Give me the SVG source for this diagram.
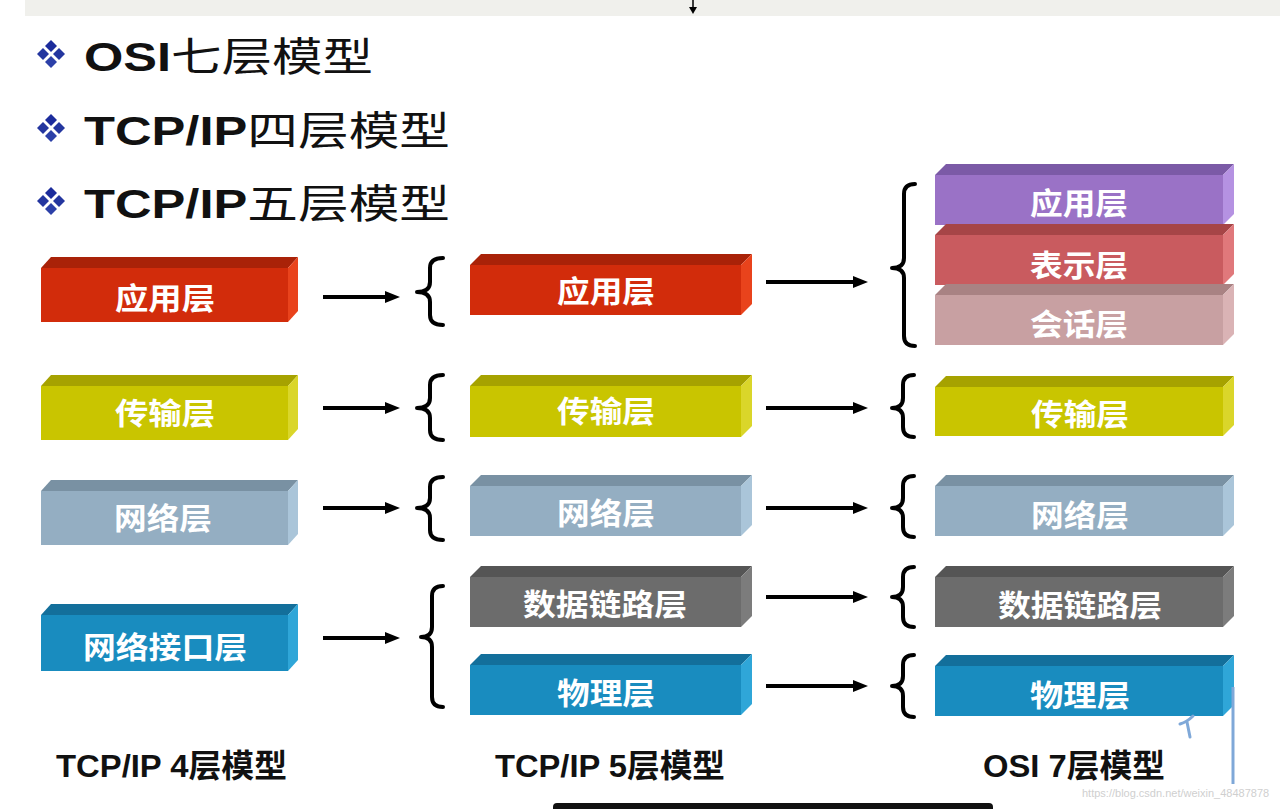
<svg xmlns="http://www.w3.org/2000/svg" width="1280" height="809" viewBox="0 0 1280 809">
<defs>
<style>
.lbl{font-family:"Liberation Sans","Noto Sans CJK SC",sans-serif;font-weight:bold;font-size:30px;fill:#ffffff;text-anchor:middle}
.ttl{font-family:"Liberation Sans","Noto Sans CJK SC",sans-serif;font-size:40px;fill:#111}
.ttl .lat{font-weight:bold}
.ttl .cjk{font-weight:normal}
.cap{font-family:"Liberation Sans","Noto Sans CJK SC",sans-serif;font-weight:bold;font-size:32px;fill:#111}
.arr{stroke:#000;stroke-width:4;fill:none}
.brace{stroke:#000;stroke-width:4;fill:none;stroke-linecap:round;stroke-linejoin:round}
.red .f{fill:#d22c0b}.red .t{fill:#a92208}.red .s{fill:#e9431c}
.yel .f{fill:#c9c500}.yel .t{fill:#a6a200}.yel .s{fill:#dad62a}
.gbl .f{fill:#94aec2}.gbl .t{fill:#7991a3}.gbl .s{fill:#aac5d9}
.blu .f{fill:#198cbf}.blu .t{fill:#136f9b}.blu .s{fill:#2fa6d8}
.gry .f{fill:#6c6c6c}.gry .t{fill:#555555}.gry .s{fill:#7c7c7c}
.pur .f{fill:#9a72c6}.pur .t{fill:#7b5aa6}.pur .s{fill:#b592e2}
.rse .f{fill:#c95b5f}.rse .t{fill:#a64547}.rse .s{fill:#e0787b}
.pnk .f{fill:#c8a0a2}.pnk .t{fill:#a98283}.pnk .s{fill:#dab3b5}
</style>
<marker id="ah" markerUnits="userSpaceOnUse" markerWidth="16" markerHeight="12" refX="1" refY="6" orient="auto">
<path d="M0,0 L15,6 L0,12 z" fill="#000"/>
</marker>
<marker id="ahs" markerUnits="userSpaceOnUse" markerWidth="8" markerHeight="8" refX="1" refY="4" orient="auto">
<path d="M0,0 L7,4 L0,8 z" fill="#000"/>
</marker>
<g id="bul">
<polygon points="0,-14 6,-8 0,-2 -6,-8" fill="#1c2c9c"/>
<polygon points="-8,-6 -2,0 -8,6 -14,0" fill="#24369f"/>
<polygon points="8,-6 14,0 8,6 2,0" fill="#24369f"/>
<polygon points="0,2 6,8 0,14 -6,8" fill="#2c40a8"/>
</g>
</defs>
<rect width="1280" height="809" fill="#ffffff"/>
<rect x="25" y="0" width="1255" height="16" fill="#f0f0ec"/>
<line x1="693" y1="0" x2="693" y2="8" stroke="#000" stroke-width="1.5" marker-end="url(#ahs)"/>

<g id="titles">
<use href="#bul" x="51" y="54"/>
<text class="ttl" x="84" y="71" textLength="289" lengthAdjust="spacingAndGlyphs"><tspan class="lat">OSI</tspan><tspan class="cjk">七层模型</tspan></text>
<use href="#bul" x="51" y="128"/>
<text class="ttl" x="84" y="145" textLength="366" lengthAdjust="spacingAndGlyphs"><tspan class="lat">TCP/IP</tspan><tspan class="cjk">四层模型</tspan></text>
<use href="#bul" x="51" y="201"/>
<text class="ttl" x="84" y="218" textLength="366" lengthAdjust="spacingAndGlyphs"><tspan class="lat">TCP/IP</tspan><tspan class="cjk">五层模型</tspan></text>
</g>

<g id="n4-app" class="red">
<rect class="f" x="41" y="268" width="247" height="54"/>
<polygon class="t" points="41,268 51,257 298,257 288,268"/>
<polygon class="s" points="288,268 298,257 298,311 288,322"/>
<text class="lbl" x="165" y="309" textLength="100" lengthAdjust="spacingAndGlyphs">应用层</text>
</g>
<g id="n4-trans" class="yel">
<rect class="f" x="41" y="386" width="247" height="54"/>
<polygon class="t" points="41,386 51,375 298,375 288,386"/>
<polygon class="s" points="288,386 298,375 298,429 288,440"/>
<text class="lbl" x="165" y="424" textLength="100" lengthAdjust="spacingAndGlyphs">传输层</text>
</g>
<g id="n4-net" class="gbl">
<rect class="f" x="41" y="491" width="247" height="54"/>
<polygon class="t" points="41,491 51,480 298,480 288,491"/>
<polygon class="s" points="288,491 298,480 298,534 288,545"/>
<text class="lbl" x="163" y="529" textLength="98" lengthAdjust="spacingAndGlyphs">网络层</text>
</g>
<g id="n4-if" class="blu">
<rect class="f" x="41" y="615" width="247" height="56"/>
<polygon class="t" points="41,615 51,604 298,604 288,615"/>
<polygon class="s" points="288,615 298,604 298,660 288,671"/>
<text class="lbl" x="165" y="658" textLength="164" lengthAdjust="spacingAndGlyphs">网络接口层</text>
</g>

<g id="n5-app" class="red">
<rect class="f" x="470" y="265" width="271" height="50"/>
<polygon class="t" points="470,265 481,254 752,254 741,265"/>
<polygon class="s" points="741,265 752,254 752,304 741,315"/>
<text class="lbl" x="606" y="302" textLength="98" lengthAdjust="spacingAndGlyphs">应用层</text>
</g>
<g id="n5-trans" class="yel">
<rect class="f" x="470" y="386" width="271" height="51"/>
<polygon class="t" points="470,386 481,375 752,375 741,386"/>
<polygon class="s" points="741,386 752,375 752,426 741,437"/>
<text class="lbl" x="606" y="422" textLength="98" lengthAdjust="spacingAndGlyphs">传输层</text>
</g>
<g id="n5-net" class="gbl">
<rect class="f" x="470" y="486" width="271" height="50"/>
<polygon class="t" points="470,486 481,475 752,475 741,486"/>
<polygon class="s" points="741,486 752,475 752,525 741,536"/>
<text class="lbl" x="606" y="524" textLength="98" lengthAdjust="spacingAndGlyphs">网络层</text>
</g>
<g id="n5-link" class="gry">
<rect class="f" x="470" y="577" width="271" height="50"/>
<polygon class="t" points="470,577 481,566 752,566 741,577"/>
<polygon class="s" points="741,577 752,566 752,616 741,627"/>
<text class="lbl" x="605" y="615" textLength="164" lengthAdjust="spacingAndGlyphs">数据链路层</text>
</g>
<g id="n5-phy" class="blu">
<rect class="f" x="470" y="665" width="271" height="50"/>
<polygon class="t" points="470,665 481,654 752,654 741,665"/>
<polygon class="s" points="741,665 752,654 752,704 741,715"/>
<text class="lbl" x="606" y="704" textLength="98" lengthAdjust="spacingAndGlyphs">物理层</text>
</g>

<g id="n7-app" class="pur">
<rect class="f" x="935" y="175" width="288" height="50"/>
<polygon class="t" points="935,175 946,164 1234,164 1223,175"/>
<polygon class="s" points="1223,175 1234,164 1234,214 1223,225"/>
<text class="lbl" x="1079" y="214" textLength="98" lengthAdjust="spacingAndGlyphs">应用层</text>
</g>
<g id="n7-pres" class="rse">
<rect class="f" x="935" y="235" width="288" height="50"/>
<polygon class="t" points="935,235 946,224 1234,224 1223,235"/>
<polygon class="s" points="1223,235 1234,224 1234,274 1223,285"/>
<text class="lbl" x="1079" y="276" textLength="98" lengthAdjust="spacingAndGlyphs">表示层</text>
</g>
<g id="n7-sess" class="pnk">
<rect class="f" x="935" y="295" width="288" height="50"/>
<polygon class="t" points="935,295 946,284 1234,284 1223,295"/>
<polygon class="s" points="1223,295 1234,284 1234,334 1223,345"/>
<text class="lbl" x="1079" y="335" textLength="98" lengthAdjust="spacingAndGlyphs">会话层</text>
</g>
<g id="n7-trans" class="yel">
<rect class="f" x="935" y="387" width="288" height="49"/>
<polygon class="t" points="935,387 946,376 1234,376 1223,387"/>
<polygon class="s" points="1223,387 1234,376 1234,425 1223,436"/>
<text class="lbl" x="1080" y="425" textLength="98" lengthAdjust="spacingAndGlyphs">传输层</text>
</g>
<g id="n7-net" class="gbl">
<rect class="f" x="935" y="486" width="288" height="50"/>
<polygon class="t" points="935,486 946,475 1234,475 1223,486"/>
<polygon class="s" points="1223,486 1234,475 1234,525 1223,536"/>
<text class="lbl" x="1080" y="526" textLength="98" lengthAdjust="spacingAndGlyphs">网络层</text>
</g>
<g id="n7-link" class="gry">
<rect class="f" x="935" y="577" width="288" height="50"/>
<polygon class="t" points="935,577 946,566 1234,566 1223,577"/>
<polygon class="s" points="1223,577 1234,566 1234,616 1223,627"/>
<text class="lbl" x="1080" y="616" textLength="164" lengthAdjust="spacingAndGlyphs">数据链路层</text>
</g>
<g id="n7-phy" class="blu">
<rect class="f" x="935" y="666" width="288" height="50"/>
<polygon class="t" points="935,666 946,655 1234,655 1223,666"/>
<polygon class="s" points="1223,666 1234,655 1234,705 1223,716"/>
<text class="lbl" x="1080" y="706" textLength="100" lengthAdjust="spacingAndGlyphs">物理层</text>
</g>

<g id="connectors">
<line class="arr" x1="323" y1="297" x2="386" y2="297" marker-end="url(#ah)"/>
<line class="arr" x1="323" y1="408" x2="386" y2="408" marker-end="url(#ah)"/>
<line class="arr" x1="323" y1="508" x2="386" y2="508" marker-end="url(#ah)"/>
<line class="arr" x1="323" y1="638" x2="386" y2="638" marker-end="url(#ah)"/>
<line class="arr" x1="766" y1="282" x2="854" y2="282" marker-end="url(#ah)"/>
<line class="arr" x1="766" y1="408" x2="854" y2="408" marker-end="url(#ah)"/>
<line class="arr" x1="766" y1="508" x2="854" y2="508" marker-end="url(#ah)"/>
<line class="arr" x1="766" y1="597" x2="854" y2="597" marker-end="url(#ah)"/>
<line class="arr" x1="766" y1="686" x2="854" y2="686" marker-end="url(#ah)"/>
<path class="brace" d="M443,258 Q430,258 430,268 L430,282 Q430,292 417,292 Q430,292 430,302 L430,315 Q430,325 443,325"/>
<path class="brace" d="M443,375 Q430,375 430,385 L430,398 Q430,408 417,408 Q430,408 430,418 L430,430 Q430,440 443,440"/>
<path class="brace" d="M443,477 Q430,477 430,487 L430,498 Q430,508 417,508 Q430,508 430,518 L430,530 Q430,540 443,540"/>
<path class="brace" d="M443,586 Q432,586 432,596 L432,627 Q432,637 421,637 Q432,637 432,647 L432,697 Q432,707 443,707"/>
<path class="brace" d="M915,184 Q904,184 904,194 L904,258 Q904,268 892,268 Q904,268 904,278 L904,336 Q904,346 915,346"/>
<path class="brace" d="M914,375 Q903,375 903,385 L903,398 Q903,408 892,408 Q903,408 903,418 L903,427 Q903,437 914,437"/>
<path class="brace" d="M914,476 Q903,476 903,486 L903,498 Q903,508 892,508 Q903,508 903,518 L903,527 Q903,537 914,537"/>
<path class="brace" d="M914,567 Q903,567 903,577 L903,587 Q903,597 892,597 Q903,597 903,607 L903,617 Q903,627 914,627"/>
<path class="brace" d="M914,655 Q903,655 903,665 L903,676 Q903,686 892,686 Q903,686 903,696 L903,707 Q903,717 914,717"/>
</g>

<g id="captions">
<text class="cap" x="56" y="777" textLength="231" lengthAdjust="spacingAndGlyphs">TCP/IP 4层模型</text>
<text class="cap" x="495" y="777" textLength="230" lengthAdjust="spacingAndGlyphs">TCP/IP 5层模型</text>
<text class="cap" x="983" y="777" textLength="182" lengthAdjust="spacingAndGlyphs">OSI 7层模型</text>
</g>

<g id="marks">
<line x1="1233" y1="687" x2="1233" y2="784" stroke="#7fa8d8" stroke-width="3"/>
<path d="M1180,724 Q1187,722 1193,716 M1187,722 L1190,737" stroke="#7fa8d8" stroke-width="3" fill="none" stroke-linecap="round"/>
<text x="1082" y="797" font-family="Liberation Sans, sans-serif" font-size="11" fill="#cfcfcf">https://blog.csdn.net/weixin_48487878</text>
<rect x="553" y="803" width="440" height="12" rx="4" fill="#111"/>
</g>
</svg>
